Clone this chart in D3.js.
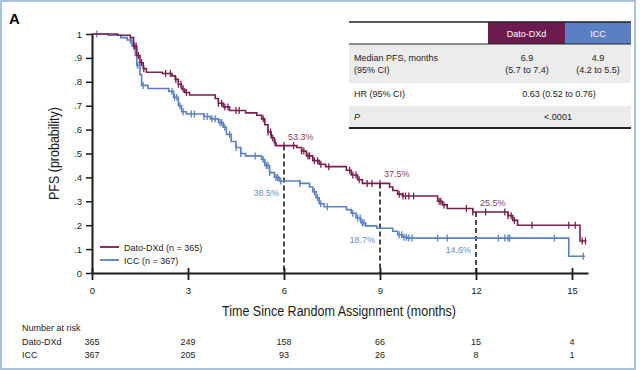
<!DOCTYPE html>
<html>
<head>
<meta charset="utf-8">
<script src="https://cdn.jsdelivr.net/npm/d3@7"></script>
<style>
  body { margin: 0; background: #fff; }
  svg { font-family: "Liberation Sans", Arial, sans-serif; }
</style>
</head>
<body>
<svg id="km" width="640" height="370"></svg>
<script>
// Kaplan-Meier step points (time in months, survival after that time)
const datoTime = [0, 0.8, 1.2, 1.3, 1.4, 1.5, 1.6, 1.7, 2.2, 2.5, 2.6, 2.7, 2.8, 2.9, 3.05, 3.85, 3.95, 4.1, 4.3, 4.8, 5.15, 5.3, 5.4, 5.5, 5.6, 5.7, 5.75, 6.4, 6.55, 6.7, 6.9, 7.1, 7.3, 7.95, 8.1, 8.3, 8.45, 9.3, 9.4, 9.55, 9.7, 10.8, 10.95, 11.1, 11.9, 13.0, 13.15, 13.3, 15.25, 15.45];
const datoSurv = [1, 0.995, 0.985, 0.95, 0.91, 0.88, 0.855, 0.84, 0.835, 0.825, 0.81, 0.79, 0.77, 0.755, 0.745, 0.73, 0.71, 0.695, 0.68, 0.67, 0.66, 0.645, 0.62, 0.59, 0.565, 0.545, 0.533, 0.525, 0.51, 0.49, 0.47, 0.455, 0.445, 0.43, 0.41, 0.39, 0.375, 0.36, 0.345, 0.33, 0.322, 0.30, 0.285, 0.27, 0.255, 0.24, 0.22, 0.20, 0.134, 0.134];
const iccTime = [0, 0.5, 0.9, 1.1, 1.25, 1.35, 1.4, 1.5, 1.55, 1.75, 2.4, 2.55, 2.7, 2.8, 2.95, 3.5, 3.7, 3.95, 4.1, 4.2, 4.35, 4.5, 4.65, 4.8, 5.3, 5.4, 5.55, 5.7, 5.85, 6.5, 6.8, 6.9, 7.0, 7.1, 7.25, 7.95, 8.1, 8.25, 8.4, 8.55, 8.9, 9.4, 9.55, 9.7, 9.85, 14.9, 15.4];
const iccSurv = [1, 0.995, 0.985, 0.975, 0.95, 0.91, 0.87, 0.83, 0.785, 0.772, 0.76, 0.735, 0.70, 0.675, 0.665, 0.655, 0.645, 0.63, 0.61, 0.58, 0.55, 0.525, 0.50, 0.49, 0.475, 0.45, 0.42, 0.40, 0.385, 0.375, 0.36, 0.34, 0.315, 0.29, 0.277, 0.265, 0.25, 0.23, 0.21, 0.197, 0.187, 0.175, 0.16, 0.15, 0.146, 0.07, 0.07];

// censored observations (months)
const datoCensor = [1.32, 1.38, 1.45, 1.55, 1.62, 2.3, 2.45, 2.62, 2.7, 2.78, 2.85, 2.95, 3.95, 4.05, 4.15, 4.25, 4.5, 4.6, 5.35, 5.5, 5.58, 5.65, 5.72, 6.0, 6.3, 6.55, 6.62, 6.75, 6.8, 6.95, 7.05, 7.15, 7.4, 8.05, 8.15, 8.25, 8.35, 8.6, 8.75, 9.0, 9.6, 9.72, 9.8, 9.9, 10.05, 10.85, 10.9, 11.0, 11.7, 11.9, 12.3, 12.9, 13.0, 13.1, 13.2, 13.75, 14.9, 15.1, 15.32, 15.42];
const iccCensor = [0.15, 1.2, 1.3, 1.42, 1.48, 1.6, 2.5, 2.58, 2.65, 2.75, 2.85, 3.1, 3.2, 3.5, 3.6, 3.75, 3.85, 4.0, 4.05, 4.15, 4.3, 4.5, 4.65, 5.1, 5.35, 5.45, 5.5, 5.55, 5.75, 5.8, 5.9, 6.5, 6.95, 7.05, 7.15, 7.35, 8.15, 8.3, 8.38, 8.45, 8.5, 9.6, 9.68, 9.75, 9.82, 9.9, 10.0, 10.8, 11.1, 12.7, 12.9, 13.0, 13.05, 14.45, 15.35];

// landmark estimates
const datoMarks = [{ t: 6, s: 0.533, label: "53.3%" }, { t: 9, s: 0.375, label: "37.5%" }, { t: 12, s: 0.255, label: "25.5%" }];
const iccMarks = [{ t: 6, s: 0.385, label: "38.5%" }, { t: 9, s: 0.187, label: "18.7%" }, { t: 12, s: 0.146, label: "14.6%" }];

const xTicks = [0, 3, 6, 9, 12, 15];
const yTicks = [0, 0.1, 0.2, 0.3, 0.4, 0.5, 0.6, 0.7, 0.8, 0.9, 1];
const riskDato = [365, 249, 158, 66, 15, 4];
const riskIcc = [367, 205, 93, 26, 8, 1];

const tableHead = ["Dato-DXd", "ICC"];
const tableRows = [
  ["Median PFS, months", "(95% CI)", "6.9", "(5.7 to 7.4)", "4.9", "(4.2 to 5.5)"],
  ["HR (95% CI)", "0.63 (0.52 to 0.76)"],
  ["P", "<.0001"]
];

const datoColor = "#7a1f4f";
const iccColor = "#5a80c3";
const datoLabel = "#8e3d6b";
const iccLabel = "#6a8fcc";

const svg = d3.select("#km");

// frame
svg.append("rect")
  .attr("x", 1).attr("y", 1).attr("width", 634).attr("height", 368)
  .attr("fill", "none").attr("stroke", "#a9c3de").attr("stroke-width", 2);

svg.append("text")
  .attr("x", 9).attr("y", 24)
  .attr("font-size", "15px").attr("font-weight", "bold")
  .text("A");

const x = d3.scaleLinear().domain([0, 15.5]).range([92, 588]);
const y = d3.scaleLinear().domain([0, 1]).range([273, 34]);

// axes
const xAxis = svg.append("g")
  .attr("transform", `translate(0, ${y(0)})`)
  .call(d3.axisBottom(x).tickValues(xTicks).tickSize(7).tickPadding(7).tickSizeOuter(0));
xAxis.select(".domain").attr("stroke", "#1a1a1a").attr("stroke-width", 2);
xAxis.selectAll(".tick line").attr("y1", -5).attr("stroke", "#1a1a1a").attr("stroke-width", 1.8);
xAxis.selectAll(".tick text").attr("font-size", "9.5px").attr("fill", "#222").attr("font-family", "Liberation Sans, Arial, sans-serif");

const yAxis = svg.append("g")
  .attr("transform", `translate(${x(0)}, 0)`)
  .call(d3.axisLeft(y).tickValues(yTicks).tickSize(6).tickPadding(4).tickSizeOuter(0)
    .tickFormat(d => d === 0 ? "0" : d === 1 ? "1" : d3.format(".1f")(d).replace(/^0/, "")));
yAxis.select(".domain").attr("stroke", "#1a1a1a").attr("stroke-width", 2);
yAxis.selectAll(".tick line").attr("stroke", "#1a1a1a").attr("stroke-width", 1.5);
yAxis.selectAll(".tick text").attr("font-size", "9.5px").attr("fill", "#222").attr("font-family", "Liberation Sans, Arial, sans-serif");

// axis titles
svg.append("text")
  .attr("x", 222).attr("y", 316)
  .attr("font-size", "14px").attr("fill", "#1a1a1a")
  .attr("textLength", 234).attr("lengthAdjust", "spacingAndGlyphs")
  .text("Time Since Random Assignment (months)");

svg.append("text")
  .attr("transform", "translate(59, 200) rotate(-90)")
  .attr("font-size", "14px").attr("fill", "#1a1a1a")
  .attr("textLength", 93).attr("lengthAdjust", "spacingAndGlyphs")
  .text("PFS (probability)");

// landmark dashed lines (from the Dato-DXd estimate down to the axis)
svg.append("g").selectAll("line")
  .data(datoMarks)
  .join("line")
  .attr("x1", d => x(d.t)).attr("x2", d => x(d.t))
  .attr("y1", d => y(d.s)).attr("y2", y(0))
  .attr("stroke", "#1a1a1a").attr("stroke-width", 1.6)
  .attr("stroke-dasharray", "5,3");

// curves
const line = d3.line().x(d => x(d[0])).y(d => y(d[1])).curve(d3.curveStepAfter);
const survAt = (times, survs, t) => survs[Math.max(0, d3.bisectRight(times, t) - 1)];

function drawArm(times, survs, censor, color) {
  const pts = times.map((t, i) => [t, survs[i]]);
  svg.append("path")
    .attr("d", line(pts))
    .attr("fill", "none").attr("stroke", color).attr("stroke-width", 1.6);
  svg.append("g").selectAll("line")
    .data(censor)
    .join("line")
    .attr("x1", d => x(d)).attr("x2", d => x(d))
    .attr("y1", d => y(survAt(times, survs, d)) - 3.5)
    .attr("y2", d => y(survAt(times, survs, d)) + 3.5)
    .attr("stroke", color).attr("stroke-width", 1.3);
}
drawArm(iccTime, iccSurv, iccCensor, iccColor);
drawArm(datoTime, datoSurv, datoCensor, datoColor);

// landmark labels
svg.append("g").selectAll("text")
  .data(datoMarks)
  .join("text")
  .attr("x", d => x(d.t) + 4).attr("y", d => y(d.s) - 6)
  .attr("font-size", "9px").attr("fill", datoLabel)
  .text(d => d.label);
svg.append("g").selectAll("text")
  .data(iccMarks)
  .join("text")
  .attr("x", d => x(d.t) - 5).attr("y", d => y(d.s) + 15)
  .attr("text-anchor", "end")
  .attr("font-size", "9px").attr("fill", iccLabel)
  .text(d => d.label);

// legend
const legend = svg.append("g");
[["Dato-DXd (n = 365)", datoColor], ["ICC (n = 367)", iccColor]].forEach(([txt, c], i) => {
  legend.append("line")
    .attr("x1", 100).attr("x2", 119)
    .attr("y1", 247 + i * 13).attr("y2", 247 + i * 13)
    .attr("stroke", c).attr("stroke-width", 1.8);
  legend.append("text")
    .attr("x", 124).attr("y", 250.5 + i * 13)
    .attr("font-size", "9px").attr("fill", "#222")
    .text(txt);
});

// number at risk
const risk = svg.append("g").attr("font-size", "9px").attr("fill", "#222");
risk.append("text").attr("x", 22).attr("y", 331).text("Number at risk");
risk.append("text").attr("x", 22).attr("y", 344.5).text("Dato-DXd");
risk.append("text").attr("x", 22).attr("y", 358).text("ICC");
risk.selectAll(".rd")
  .data(riskDato)
  .join("text")
  .attr("x", (d, i) => x(xTicks[i])).attr("y", 344.5)
  .attr("text-anchor", "middle")
  .text(d => d);
risk.selectAll(".ri")
  .data(riskIcc)
  .join("text")
  .attr("x", (d, i) => x(xTicks[i])).attr("y", 358)
  .attr("text-anchor", "middle")
  .text(d => d);

// summary table
const tbl = svg.append("g").attr("font-size", "9px").attr("fill", "#222");
const tL = 349, tR = 631, c1 = 488, c2 = 565;
tbl.append("rect").attr("x", tL).attr("y", 44).attr("width", tR - tL).attr("height", 39).attr("fill", "#ececec");
tbl.append("rect").attr("x", tL).attr("y", 106).attr("width", tR - tL).attr("height", 22).attr("fill", "#ececec");
tbl.append("rect").attr("x", c1).attr("y", 22).attr("width", c2 - c1).attr("height", 22).attr("fill", "#6d1a4e");
tbl.append("rect").attr("x", c2).attr("y", 22).attr("width", tR - c2).attr("height", 22).attr("fill", "#5b7fc4");
[[22, 1.6], [44, 1.2], [128, 2]].forEach(([yy, w]) => {
  tbl.append("line").attr("x1", tL).attr("x2", tR).attr("y1", yy).attr("y2", yy)
    .attr("stroke", "#222").attr("stroke-width", w);
});
tbl.selectAll(".hd")
  .data(tableHead)
  .join("text")
  .attr("x", (d, i) => i === 0 ? (c1 + c2) / 2 : (c2 + tR) / 2)
  .attr("y", 36.5)
  .attr("text-anchor", "middle").attr("fill", "#fff")
  .text(d => d);

const r0 = tableRows[0];
tbl.append("text").attr("x", 354).attr("y", 61).text(r0[0]);
tbl.append("text").attr("x", 354).attr("y", 72.5).text(r0[1]);
tbl.append("text").attr("x", 527).attr("y", 61).attr("text-anchor", "middle").text(r0[2]);
tbl.append("text").attr("x", 527).attr("y", 72.5).attr("text-anchor", "middle").text(r0[3]);
tbl.append("text").attr("x", 598).attr("y", 61).attr("text-anchor", "middle").text(r0[4]);
tbl.append("text").attr("x", 598).attr("y", 72.5).attr("text-anchor", "middle").text(r0[5]);
tbl.append("text").attr("x", 354).attr("y", 97).text(tableRows[1][0]);
tbl.append("text").attr("x", 559).attr("y", 97).attr("text-anchor", "middle").text(tableRows[1][1]);
tbl.append("text").attr("x", 354).attr("y", 120).attr("font-style", "italic").text(tableRows[2][0]);
tbl.append("text").attr("x", 558).attr("y", 120).attr("text-anchor", "middle").text(tableRows[2][1]);
</script>
</body>
</html>
